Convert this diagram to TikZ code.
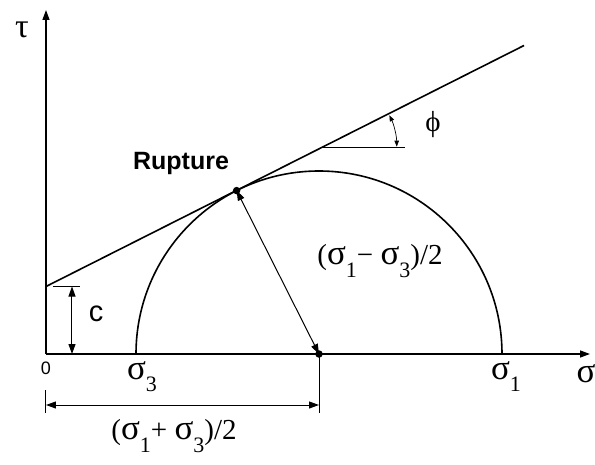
\documentclass[tikz,border=0pt]{standalone}
\usepackage{fontspec}
\setmainfont{Liberation Serif}
\setsansfont{Liberation Sans}
\usetikzlibrary{arrows.meta, positioning}
\newcommand{\sg}[1]{{\fontsize{35}{35}\selectfont σ}\raisebox{-0.42em}{\fontsize{22}{22}\selectfont #1}}

\begin{document}
\begin{tikzpicture}[x=1pt, y=1pt, >={Triangle[length=10pt, width=7pt]},
		axis/.style={->, line width=1.3pt},
		curve/.style={line width=1.6pt},
		dim/.style={<->, line width=1pt},
		tick/.style={line width=1pt},
		big/.style={font=\fontsize{29}{30}\selectfont, inner sep=0pt},
		dot/.style={circle, fill=black, inner sep=0pt, minimum size=7.5pt}]
		
		\useasboundingbox (-46,-110) rectangle (549,354);
		
		\coordinate (O) at (0,0);
		\coordinate (C) at (273,0);
		\coordinate (S3) at (90,0);
		\coordinate (S1) at (456,0);
		\coordinate (T) at ([shift={(116.75:183)}]C);
		\coordinate (A) at (0,67.5);
		\coordinate (B) at (478,308.5);
		\coordinate (ytop) at (0,344);
		\coordinate (xend) at (544,0);
		
		% axes
		\draw[axis] (O) -- (ytop);
		\draw[axis] (O) -- (xend);
		\node[font=\fontsize{34}{34}\selectfont] (tau) at (-24,324) {τ};
		\node[font=\fontsize{35}{35}\selectfont] (sig) at (540,-20) {σ};
		\node[font=\sffamily\fontsize{18}{18}\selectfont] (zero) at (0,-14) {0};
		
		% Mohr circle and failure envelope
		\draw[curve] (S1) arc[start angle=0, end angle=180, radius=183];
		\draw[curve] (A) -- (B);
		\node[big, anchor=north] (s3) at (96,-7) {\sg{3}};
		\node[big, anchor=north] (s1) at (460,-7) {\sg{1}};
		
		% cohesion
		\coordinate (c0) at (26,0);
		\coordinate (c1) at (26,67.5);
		\coordinate (k0) at (7,67.5);
		\coordinate (k1) at (34,67.5);
		\draw[tick] (k0) -- (k1);
		\draw[dim] (c0) -- (c1);
		\node[font=\sffamily\fontsize{29}{30}\selectfont] (c) at (50,40) {c};
		
		% friction angle
		\coordinate (P) at (274.8,206);
		\coordinate (Q) at (359,206);
		\draw[tick] (P) -- (Q);
		\draw[<->, >={Triangle[length=6pt, width=4.5pt]}, line width=0.7pt]
			([shift={(1:76)}]P) arc[start angle=1, end angle=25.5, radius=76];
		\node[big] (phi) at (387,229) {ϕ};
		
		% rupture point and radius
		\draw[dim] (T) -- (C);
		\node[dot] (tdot) at (T) {};
		\node[dot] (cdot) at (C) {};
		\node[font=\sffamily\bfseries\fontsize{25}{25}\selectfont] (rup) at (135,191) {Rupture};
		\node[big] (rad) at (334,93) {(\sg{1}− \sg{3})/2};
		
		% centre distance
		\coordinate (d0) at (0,-51);
		\coordinate (d1) at (273,-51);
		\coordinate (e0) at (0,-36);
		\coordinate (e1) at (0,-59);
		\coordinate (f1) at (273,-59);
		\draw[tick] (e0) -- (e1);
		\draw[tick] (C) -- (f1);
		\draw[dim] (d0) -- (d1);
		\node[big] (mid) at (128,-82) {(\sg{1}+ \sg{3})/2};
		
	\end{tikzpicture}
\end{document}
